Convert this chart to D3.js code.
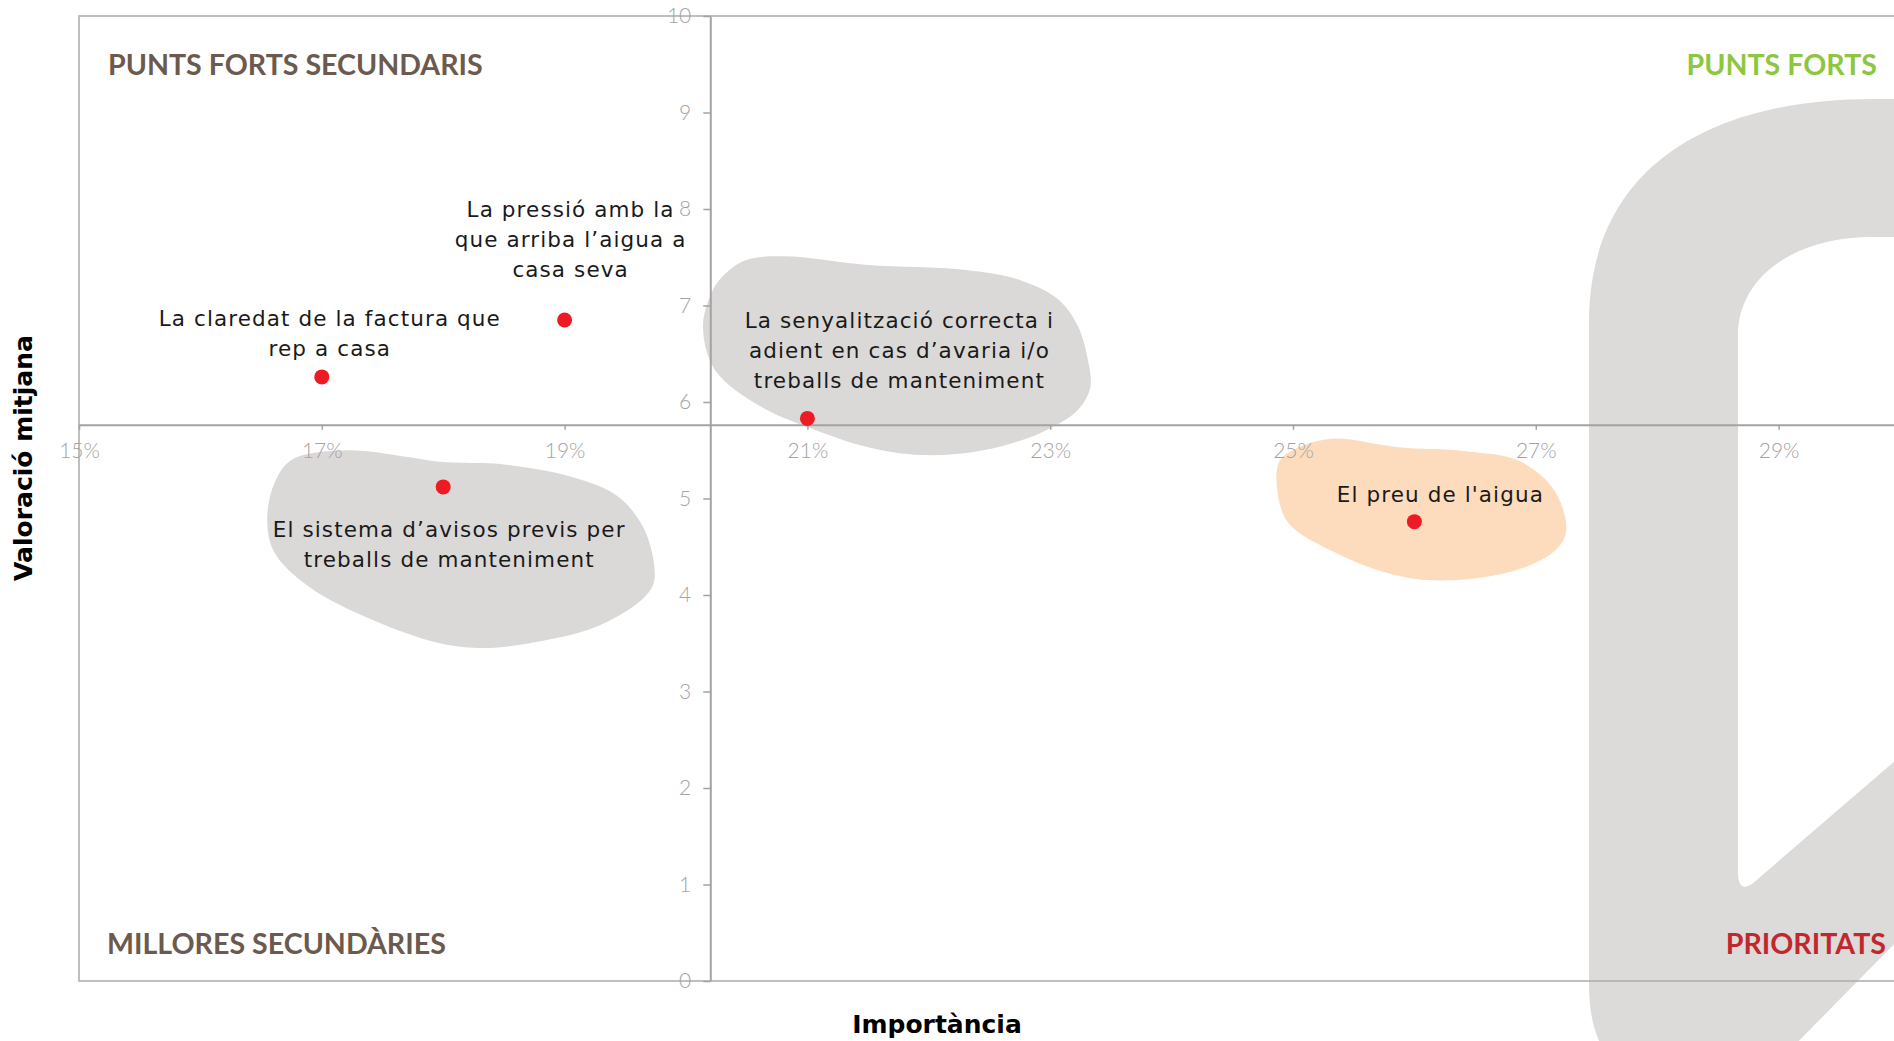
<!DOCTYPE html>
<html>
<head>
<meta charset="utf-8">
<script src="https://cdn.jsdelivr.net/npm/d3@7"></script>
<style>
  html, body { margin: 0; padding: 0; background: #ffffff; overflow: hidden; }
  svg { display: block; }
</style>
</head>
<body>
<svg id="chart" width="1894" height="1041"></svg>
<script>
// Importance (share) and mean rating of each service attribute
const attributes = [
  ["La claredat de la factura que", "rep a casa"],
  ["La pressió amb la", "que arriba l’aigua a", "casa seva"],
  ["La senyalització correcta i", "adient en cas d’avaria i/o", "treballs de manteniment"],
  ["El sistema d’avisos previs per", "treballs de manteniment"],
  ["El preu de l'aigua"]
];
const importance = [0.17, 0.19, 0.21, 0.18, 0.26];
const valuation  = [6.26, 6.85, 5.83, 5.12, 4.76];

// Axis ticks
const xTicks = [0.15, 0.17, 0.19, 0.21, 0.23, 0.25, 0.27, 0.29];
const yTicks = [0, 1, 2, 3, 4, 5, 6, 7, 8, 9, 10];

// Quadrant names
const quadrants = ["PUNTS FORTS SECUNDARIS", "PUNTS FORTS", "MILLORES SECUNDÀRIES", "PRIORITATS"];

// Highlighted groups, outlined in (importance %, rating) units
const highlightSenyalitzacio = [[20.14,6.78],[20.24,6.33],[20.62,5.95],[21.00,5.74],[21.50,5.53],[21.94,5.45],[22.45,5.50],[22.92,5.68],[23.23,5.92],[23.33,6.15],[23.31,6.44],[23.23,6.78],[23.07,7.06],[22.76,7.26],[22.29,7.37],[21.50,7.42],[20.81,7.51],[20.49,7.47],[20.30,7.30],[20.21,7.13]];
const highlightAvisos = [[16.61,5.16],[16.75,5.40],[17.20,5.50],[17.71,5.43],[17.97,5.38],[18.52,5.35],[19.07,5.22],[19.44,5.02],[19.66,4.67],[19.74,4.16],[19.66,3.98],[19.26,3.67],[18.71,3.50],[18.34,3.45],[17.97,3.50],[17.42,3.74],[16.90,4.08],[16.61,4.44],[16.55,4.78]];
const highlightPreu = [[24.87,5.09],[24.89,5.39],[25.05,5.53],[25.33,5.62],[25.87,5.53],[26.42,5.49],[26.86,5.39],[27.15,5.09],[27.25,4.66],[27.15,4.45],[26.79,4.24],[26.20,4.15],[25.80,4.22],[25.33,4.45],[24.96,4.75]];

// ---- layout & styles ----
const plot = { left: 79, right: 1900, top: 16, bottom: 981 };
const labelFont = "'DejaVu Sans', 'Noto Sans', sans-serif";
const tickFont = "Lato, 'Open Sans', sans-serif";
const labelOffsets = [   // [dx, dy of first baseline] from each point
  [8, -51], [6, -103], [92, -90], [6, 50], [26, -19.5]
];
const lineGap = 30;
const highlightStyles = [
  { shape: highlightSenyalitzacio, fill: "#dbd9d8" },
  { shape: highlightAvisos,        fill: "#dbd9d8" },
  { shape: highlightPreu,          fill: "#fcdcbd" }
];

const svg = d3.select("#chart");

const x = d3.scaleLinear().domain([0.15, 0.30]).range([plot.left, plot.right]);
const y = d3.scaleLinear().domain([0, 10]).range([plot.bottom, plot.top]);

// Background watermark mark
const logo = [
  "M1640,1080 Q1589,1060 1589,985 L1589,323",
  "C1589,160 1720,99 1873,99 L1910,99 L1910,928 L1780,1060 Z",
  "M1738,872 L1738,335 C1738,280 1790,237 1873,237 L1910,237 L1910,748",
  "L1752,884 Q1738,893 1738,872 Z"
].join(" ");
svg.append("path").attr("d", logo).attr("fill", "#dcdbda").attr("fill-rule", "evenodd");

// Plot frame
svg.append("rect")
  .attr("x", plot.left).attr("y", plot.top)
  .attr("width", plot.right - plot.left).attr("height", plot.bottom - plot.top)
  .attr("fill", "none").attr("stroke", "#b0b0b0").attr("stroke-width", 1.6);

// Highlight blobs
const blobLine = d3.line()
  .x(d => x(d[0] / 100)).y(d => y(d[1]))
  .curve(d3.curveCatmullRomClosed.alpha(0.5));
svg.append("g").selectAll("path").data(highlightStyles).join("path")
  .attr("d", d => blobLine(d.shape))
  .attr("fill", d => d.fill);

// Axes crossing at the mean importance / mean rating
const xCross = d3.mean(importance);
const yCross = d3.mean(valuation);

const yAxis = svg.append("g")
  .attr("transform", `translate(${x(xCross)},0)`)
  .call(d3.axisLeft(y).tickValues(yTicks).tickFormat(d3.format("d"))
    .tickSize(7).tickPadding(12).tickSizeOuter(0));
const xAxis = svg.append("g")
  .attr("transform", `translate(0,${y(yCross)})`)
  .call(d3.axisBottom(x).tickValues(xTicks).tickFormat(d3.format(".0%"))
    .tickSize(5).tickPadding(13).tickSizeOuter(0));

[xAxis, yAxis].forEach(g => {
  g.select(".domain").attr("stroke", "#a3a3a3").attr("stroke-width", 2);
  g.selectAll(".tick line").attr("stroke", "#a3a3a3").attr("stroke-width", 1.5);
  g.selectAll(".tick text")
    .attr("fill", "#a3a3a3")
    .attr("font-family", tickFont)
    .attr("font-weight", 300)
    .attr("font-size", 21);
});

// Points
const pts = importance.map((v, i) => ({ imp: v, val: valuation[i], lines: attributes[i], off: labelOffsets[i] }));
svg.append("g").selectAll("circle").data(pts).join("circle")
  .attr("cx", d => x(d.imp)).attr("cy", d => y(d.val))
  .attr("r", 7.5).attr("fill", "#ed1c24");

// Point labels
const lbl = svg.append("g").selectAll("text").data(pts).join("text")
  .attr("x", d => x(d.imp) + d.off[0])
  .attr("y", d => y(d.val) + d.off[1])
  .attr("text-anchor", "middle")
  .attr("font-family", labelFont)
  .attr("font-size", 21.5)
  .attr("letter-spacing", 1.1)
  .attr("fill", "#1a1a1a");
lbl.selectAll("tspan").data(d => d.lines.map((t, k) => ({ t, k, d }))).join("tspan")
  .attr("x", o => x(o.d.imp) + o.d.off[0])
  .attr("y", o => y(o.d.val) + o.d.off[1] + o.k * lineGap)
  .text(o => o.t);

// Quadrant names
const quadFont = "Lato, 'Liberation Sans', sans-serif";
const quadPos = [
  { x: 108, y: 75, anchor: "start", fill: "#6b5a4d" },
  { x: 1877, y: 75, anchor: "end", fill: "#8dc63f" },
  { x: 107, y: 954, anchor: "start", fill: "#6b5a4d" },
  { x: 1886, y: 954, anchor: "end", fill: "#c1272d" }
];
svg.append("g").selectAll("text").data(quadrants).join("text")
  .attr("x", (d, i) => quadPos[i].x).attr("y", (d, i) => quadPos[i].y)
  .attr("text-anchor", (d, i) => quadPos[i].anchor)
  .attr("fill", (d, i) => quadPos[i].fill)
  .attr("font-family", quadFont).attr("font-weight", 700).attr("font-size", 28.6)
  .text(d => d);

// Axis titles
const titleFont = "'DejaVu Sans', 'Liberation Sans', sans-serif";
svg.append("text")
  .attr("x", 937).attr("y", 1033)
  .attr("text-anchor", "middle")
  .attr("font-family", titleFont).attr("font-weight", 700).attr("font-size", 25)
  .attr("fill", "#000").text("Importància");
svg.append("text")
  .attr("transform", "translate(32,458) rotate(-90)")
  .attr("text-anchor", "middle")
  .attr("font-family", titleFont).attr("font-weight", 700).attr("font-size", 25)
  .attr("fill", "#000").text("Valoració mitjana");
</script>
</body>
</html>
